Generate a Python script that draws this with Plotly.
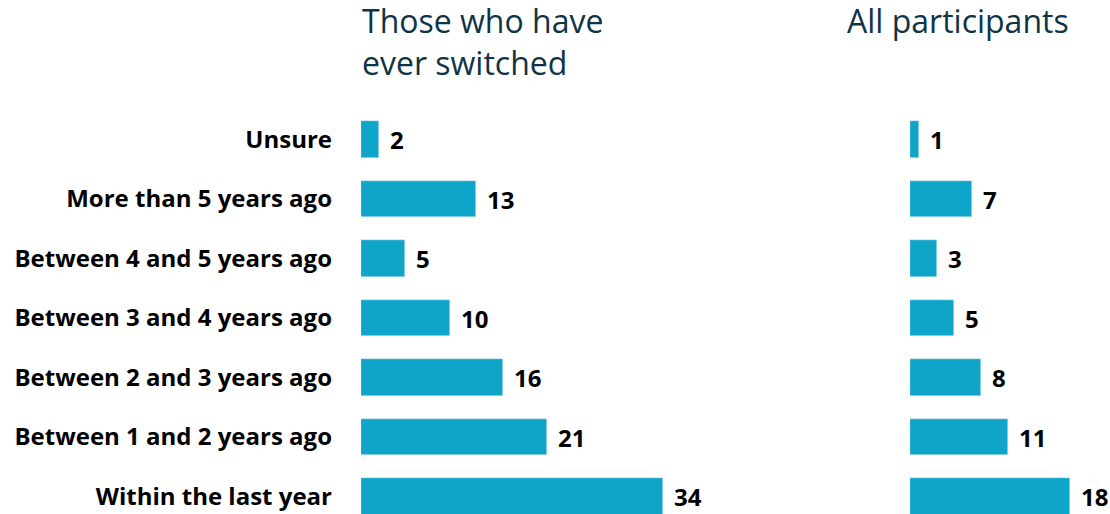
import plotly.graph_objects as go

categories = [
    "Within the last year",
    "Between 1 and 2 years ago",
    "Between 2 and 3 years ago",
    "Between 3 and 4 years ago",
    "Between 4 and 5 years ago",
    "More than 5 years ago",
    "Unsure",
]
switched = [34, 21, 16, 10, 5, 13, 2]
all_participants = [18, 11, 8, 5, 3, 7, 1]

panel_titles = ["Those who have<br>ever switched", "All participants"]

BAR_COLOR = "#0EA5C8"
TITLE_COLOR = "#0F3446"
FONT = "Open Sans"

W, H = 1110, 514
PX_PER_UNIT = 8.88

left_start = 361
left_range = 40
right_start = 910
right_range = 22

dom1 = [left_start / W, (left_start + left_range * PX_PER_UNIT) / W]
dom2 = [right_start / W, min(1.0, (right_start + right_range * PX_PER_UNIT) / W)]

ypos = list(range(len(categories)))
yrange = [-0.294, 8.345]

fig = go.Figure()
fig.add_trace(go.Bar(x=switched, y=ypos, orientation="h", marker_color=BAR_COLOR,
                     width=0.62, xaxis="x", yaxis="y", hoverinfo="skip"))
fig.add_trace(go.Bar(x=all_participants, y=ypos, orientation="h", marker_color=BAR_COLOR,
                     width=0.62, xaxis="x2", yaxis="y2", hoverinfo="skip"))

annotations = []
for xa, ya, vals in (("x", "y", switched), ("x2", "y2", all_participants)):
    for i, v in enumerate(vals):
        annotations.append(dict(x=v, y=i, xref=xa, yref=ya, text=f"<b>{v}</b>",
                                showarrow=False, xanchor="left", xshift=9,
                                font=dict(family=FONT, size=24, color="#000000")))

annotations.append(dict(x=(left_start - 1) / W, y=1.0, xref="paper", yref="paper",
                        text=panel_titles[0], showarrow=False, xanchor="left", yanchor="top",
                        align="left", yshift=3,
                        font=dict(family=FONT, size=32, color=TITLE_COLOR)))
annotations.append(dict(x=845 / W, y=1.0, xref="paper", yref="paper",
                        text=panel_titles[1], showarrow=False, xanchor="left", yanchor="top",
                        align="left", yshift=3,
                        font=dict(family=FONT, size=32, color=TITLE_COLOR)))

fig.update_layout(
    width=W, height=H,
    margin=dict(l=0, r=0, t=0, b=0),
    paper_bgcolor="white", plot_bgcolor="white",
    showlegend=False,
    bargap=0,
    xaxis=dict(domain=dom1, range=[0, left_range], visible=False, fixedrange=True),
    xaxis2=dict(domain=dom2, range=[0, right_range], visible=False, fixedrange=True),
    yaxis=dict(domain=[0, 1], range=yrange, anchor="x",
               tickvals=ypos, ticktext=[f"<b>{c}</b>" for c in categories],
               showgrid=False, zeroline=False, showline=False, ticks="",
               ticklabelstandoff=28,
               tickfont=dict(family=FONT, size=24, color="#000000")),
    yaxis2=dict(domain=[0, 1], range=yrange, anchor="x2", visible=False),
    annotations=annotations,
)

fig.write_html("out.html")
